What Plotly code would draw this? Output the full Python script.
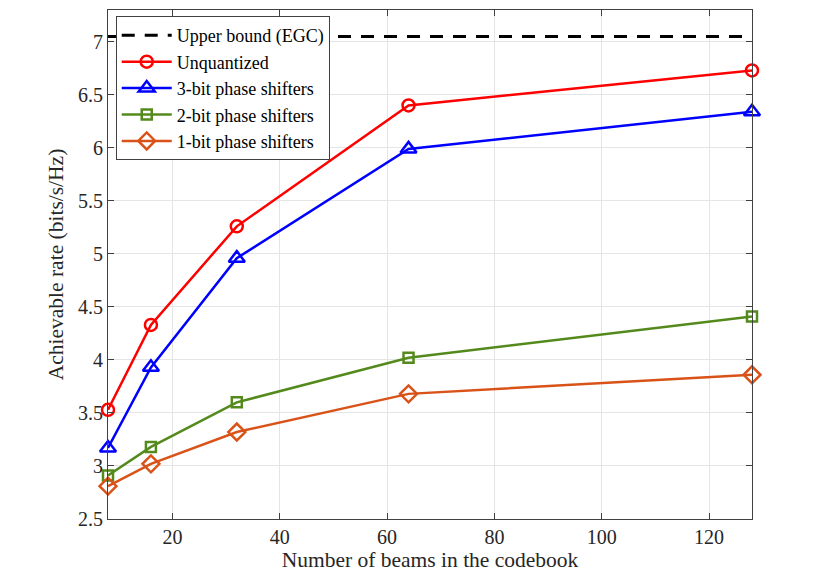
import plotly.graph_objects as go

beams = [8, 16, 32, 64, 128]
upper_bound = 7.05
rate_unquantized = [3.53, 4.33, 5.26, 6.40, 6.73]
rate_3bit = [3.17, 3.93, 4.96, 5.99, 6.34]
rate_2bit = [2.91, 3.18, 3.60, 4.02, 4.41]
rate_1bit = [2.81, 3.02, 3.32, 3.68, 3.86]

font = "Liberation Serif"

fig = go.Figure()

fig.add_trace(go.Scatter(
    x=[beams[0], beams[-1]], y=[upper_bound, upper_bound],
    mode="lines", name="Upper bound (EGC)",
    line=dict(color="black", width=3, dash="13px,10px"),
))

series = [
    ("Unquantized", rate_unquantized, "#ff0000", "circle-open", 12),
    ("3-bit phase shifters", rate_3bit, "#0000ff", "triangle-up-open", 14),
    ("2-bit phase shifters", rate_2bit, "#548a1c", "square-open", 10),
    ("1-bit phase shifters", rate_1bit, "#d95319", "diamond-open", 13),
]
for name, ys, color, symbol, size in series:
    fig.add_trace(go.Scatter(
        x=beams, y=ys, mode="lines+markers", name=name,
        line=dict(color=color, width=2.5),
        marker=dict(symbol=symbol, size=size, color=color,
                    line=dict(color=color, width=2.5)),
        cliponaxis=False,
    ))

axis_common = dict(
    showgrid=True, gridcolor="#e5e5e5", gridwidth=1,
    showline=True, linecolor="#404040", linewidth=1,
    mirror="ticks", ticks="inside", ticklen=6, tickcolor="#404040",
    zeroline=False,
    tickfont=dict(family=font, size=20, color="#262626"),
)

# the page body has an 8px margin, so the plot box is shifted by that
fig.update_xaxes(
    range=[8, 128], tickvals=[20, 40, 60, 80, 100, 120],
    title=dict(text="Number of beams in the codebook",
               font=dict(family=font, size=21.5, color="#262626"), standoff=2),
    **axis_common,
)
fig.update_yaxes(
    range=[2.5, 7.3], tickvals=[2.5, 3, 3.5, 4, 4.5, 5, 5.5, 6, 6.5, 7],
    ticktext=["2.5", "3", "3.5", "4", "4.5", "5", "5.5", "6", "6.5", "7"],
    title=dict(text="Achievable rate (bits/s/Hz)",
               font=dict(family=font, size=21.5, color="#262626"), standoff=8),
    **axis_common,
)

fig.update_layout(
    width=830, height=587,
    margin=dict(l=100, r=86, t=2, b=76),
    paper_bgcolor="white", plot_bgcolor="white",
    showlegend=True,
    legend=dict(
        x=0.012, y=0.988, xanchor="left", yanchor="top",
        bgcolor="white", bordercolor="#404040", borderwidth=1,
        font=dict(family=font, size=18, color="black"),
        tracegroupgap=0, itemwidth=50,
    ),
)

fig.write_html("out.html")
